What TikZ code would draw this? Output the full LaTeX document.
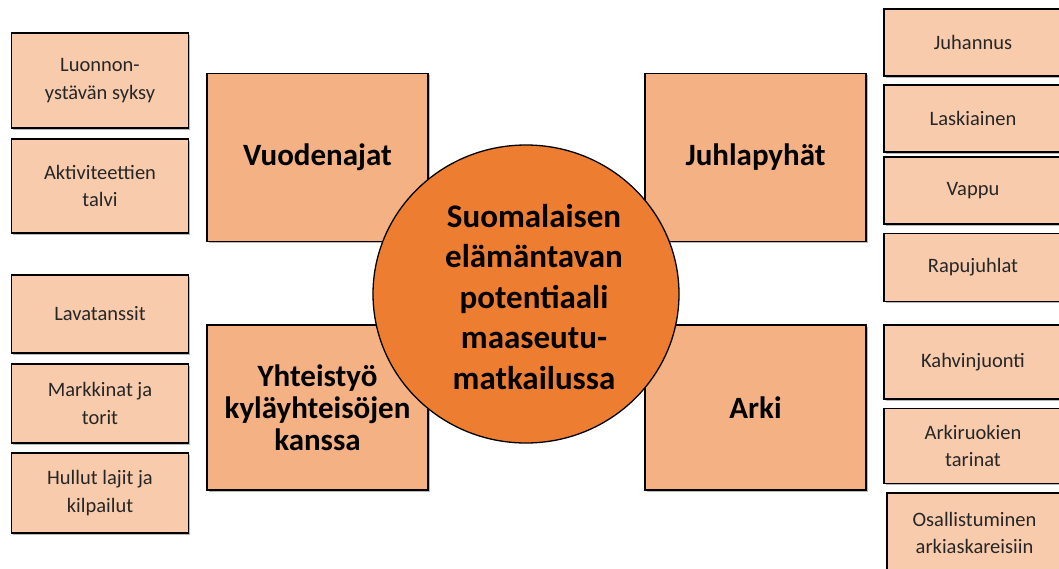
\documentclass[tikz,border=0pt]{standalone}
\usepackage{fontspec}
\setmainfont{Carlito}
\usetikzlibrary{shapes.geometric,shadows}
\definecolor{bigc}{HTML}{F4B183}
\definecolor{smallc}{HTML}{F8CBAD}
\definecolor{circc}{HTML}{ED7D31}
\tikzset{
  basebox/.style={draw=black, line width=1.3pt, rectangle, inner sep=0pt, align=center,
    drop shadow={shadow xshift=1.5pt, shadow yshift=-1.5pt, fill=black!35, opacity=0.8}},
  smallbox/.style={basebox, fill=smallc, font=\fontsize{20.5}{27.5}\selectfont, text=black!85},
  bigbox/.style={basebox, fill=bigc, font=\fontsize{31}{32}\selectfont\bfseries},
}
\begin{document}
\begin{tikzpicture}[x=1pt,y=-1pt]
\useasboundingbox (0,0) rectangle (1059,568);
\clip (0,0) rectangle (1059,568);
% left small boxes
\node[smallbox, minimum width=177pt, minimum height=95pt] (l1) at (100,80.5) {Luonnon-\\ystävän syksy};
\node[smallbox, minimum width=177pt, minimum height=94pt] (l2) at (100,186) {Aktiviteettien\\talvi};
\node[smallbox, minimum width=177pt, minimum height=78pt] (l3) at (100,314) {Lavatanssit};
\node[smallbox, minimum width=177pt, minimum height=79pt] (l4) at (100,403.5) {Markkinat ja\\torit};
\node[smallbox, minimum width=177pt, minimum height=80pt] (l5) at (100,493) {Hullut lajit ja\\kilpailut};
% right small boxes
\node[smallbox, minimum width=178pt, minimum height=67pt] (r1) at (973,42.5) {Juhannus};
\node[smallbox, minimum width=178pt, minimum height=67pt] (r2) at (973,118.5) {Laskiainen};
\node[smallbox, minimum width=178pt, minimum height=67pt] (r3) at (973,190.5) {Vappu};
\node[smallbox, minimum width=178pt, minimum height=68pt] (r4) at (973,267.5) {Rapujuhlat};
\node[smallbox, minimum width=178pt, minimum height=74pt] (r5) at (973,362) {Kahvinjuonti};
\node[smallbox, minimum width=178pt, minimum height=75pt] (r6) at (973,446) {Arkiruokien\\tarinat};
\node[smallbox, minimum width=175pt, minimum height=80pt] (r7) at (974.5,533) {Osallistuminen\\arkiaskareisiin};
% big boxes
\node[bigbox, minimum width=221pt, minimum height=168pt] (b1) at (317.5,157.5) {Vuodenajat};
\node[bigbox, minimum width=221pt, minimum height=168pt] (b2) at (755.5,157.5) {Juhlapyhät};
\node[bigbox, minimum width=221pt, minimum height=165pt] (b3) at (317.5,407.5) {Yhteistyö\\kyläyhteisöjen\\kanssa};
\node[bigbox, minimum width=221pt, minimum height=165pt] (b4) at (755.5,407.5) {Arki};
% centre
\node[ellipse, draw=black, line width=1.3pt, fill=circc, minimum width=306pt, minimum height=298pt, inner sep=0pt] (c) at (526,294) {};
\node[align=center, font=\fontsize{33}{40.5}\selectfont\bfseries, inner sep=0pt] (ct) at (534,297) {Suomalaisen\\elämäntavan\\potentiaali\\maaseutu-\\matkailussa};
\end{tikzpicture}
\end{document}
